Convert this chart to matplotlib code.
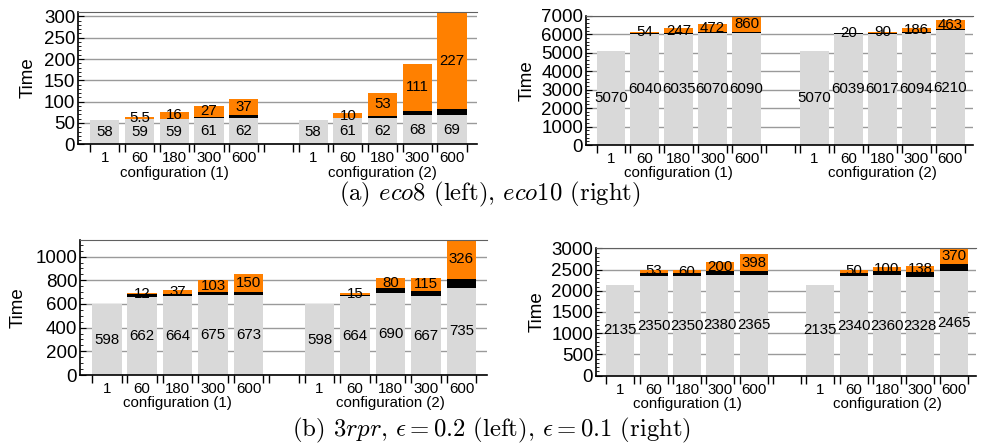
import matplotlib
matplotlib.use("Agg")
import matplotlib.pyplot as plt
import numpy as np

plt.rcParams['font.family'] = ['Liberation Sans', 'DejaVu Sans']
plt.rcParams['mathtext.fontset'] = 'cm'

# ---------------- data ----------------
tick_labels = ["1", "60", "180", "300", "600"]
group_labels = ["configuration (1)", "configuration (2)"]

# eco8
eco8_gray1 = [58, 59, 59, 61, 62]
eco8_black1 = [0, 0.5, 1, 2.5, 7]
eco8_orange1 = [0, 5.5, 16, 27, 37]
eco8_gray2 = [58, 61, 62, 68, 69]
eco8_black2 = [0, 1.5, 5, 10, 14]
eco8_orange2 = [0, 10, 53, 111, 227]

# eco10
eco10_gray1 = [5070, 6040, 6035, 6070, 6090]
eco10_black1 = [0, 30, 30, 40, 50]
eco10_orange1 = [0, 54, 247, 472, 860]
eco10_gray2 = [5070, 6039, 6017, 6094, 6210]
eco10_black2 = [0, 20, 40, 40, 80]
eco10_orange2 = [0, 20, 90, 186, 463]

# 3rpr eps=0.2
r02_gray1 = [598, 662, 664, 675, 673]
r02_black1 = [0, 20, 20, 25, 30]
r02_orange1 = [0, 12, 37, 103, 150]
r02_gray2 = [598, 664, 690, 667, 735]
r02_black2 = [0, 15, 45, 40, 78]
r02_orange2 = [0, 15, 80, 115, 326]

# 3rpr eps=0.1
r01_gray1 = [2135, 2350, 2350, 2380, 2365]
r01_black1 = [0, 80, 70, 90, 100]
r01_orange1 = [0, 53, 60, 200, 398]
r01_gray2 = [2135, 2340, 2360, 2328, 2465]
r01_black2 = [0, 90, 110, 120, 170]
r01_orange2 = [0, 50, 100, 138, 370]

GRAY = '#d9d9d9'
ORANGE = '#ff8000'
W, H = 981, 445
BW = 0.84


def fmt(v):
    return '{:g}'.format(v)


def panel(rect_px, gray1, black1, orange1, gray2, black2, orange2,
          ymax, major, minor, xlim, ylab_dx):
    l, r, t, b = rect_px
    ax = fig.add_axes([l / W, 1 - b / H, (r - l) / W, (b - t) / H])
    gray = list(gray1) + [0] + list(gray2)
    black = list(black1) + [0] + list(black2)
    orange = list(orange1) + [0] + list(orange2)
    x = np.arange(len(gray))
    gray = np.array(gray, float)
    black = np.array(black, float)
    orange = np.array(orange, float)
    ax.bar(x, gray, BW, color=GRAY, zorder=2)
    ax.bar(x, black, BW, bottom=gray, color='black', zorder=2)
    ax.bar(x, orange, BW, bottom=gray + black, color=ORANGE, zorder=2)
    for i in x:
        if i == 5:
            continue
        ax.text(i, gray[i] / 2, fmt(gray[i]), ha='center', va='center',
                fontsize=10.8, zorder=5, clip_on=False)
        if orange[i] > 0:
            ax.text(i, gray[i] + black[i] + orange[i] / 2, fmt(orange[i]),
                    ha='center', va='center', fontsize=10.8, zorder=5)
    ax.set_ylim(0, ymax)
    ax.set_xlim(*xlim)
    ax.set_yticks(np.arange(0, ymax + 1e-9, major))
    ax.set_yticks(np.arange(0, ymax + 1e-9, minor), minor=True)
    ax.tick_params(axis='y', which='both', direction='in', labelsize=13.5, pad=2)
    ax.tick_params(axis='y', which='major', length=4)
    ax.tick_params(axis='y', which='minor', length=2.5)
    ax.yaxis.grid(True, color='#9a9a9a', linewidth=1.0)
    ax.set_axisbelow(True)
    edges = []
    for i in x:
        edges += [i - BW / 2, i + BW / 2]
    ax.set_xticks(edges)
    ax.set_xticklabels([])
    ax.set_xticks(x, minor=True)
    ax.set_xticklabels(tick_labels + [""] + tick_labels, minor=True)
    ax.tick_params(axis='x', which='major', direction='out', length=6, width=1)
    ax.tick_params(axis='x', which='minor', length=0, labelsize=10.8, pad=5)
    ax.spines['right'].set_visible(False)
    ax.spines['top'].set_color('#606060')
    ax.spines['left'].set_linewidth(1.2)
    ax.spines['bottom'].set_linewidth(1.2)
    for k, c in enumerate([2, 8]):
        ax.annotate(group_labels[k], xy=(c, 0), xycoords=('data', 'axes fraction'),
                    xytext=(0, -28.5 * 0.72), textcoords='offset points',
                    ha='center', va='center', fontsize=10.8)
    ax.set_ylabel('Time', fontsize=13.5)
    ax.yaxis.set_label_coords(-(ylab_dx - 11) / (r - l), 0.5)
    return ax


fig = plt.figure(figsize=(W / 100, H / 100), dpi=100)

panel((78, 477, 11.7, 144.3), eco8_gray1, eco8_black1, eco8_orange1,
      eco8_gray2, eco8_black2, eco8_orange2, 311, 50, 10, (-0.77, 10.72), 52)
panel((586, 973, 15.8, 145), eco10_gray1, eco10_black1, eco10_orange1,
      eco10_gray2, eco10_black2, eco10_orange2, 7000, 1000, 200, (-0.73, 10.67), 61)
panel((80, 487, 240, 375), r02_gray1, r02_black1, r02_orange1,
      r02_gray2, r02_black2, r02_orange2, 1140, 200, 50, (-0.75, 10.72), 64)
panel((596, 976, 248.3, 375.7), r01_gray1, r01_black1, r01_orange1,
      r01_gray2, r01_black2, r01_orange2, 3000, 500, 100, (-0.73, 10.67), 61)

fig.text(490 / W, 1 - 194 / H, r"(a) $\mathit{eco8}$ (left), $\mathit{eco10}$ (right)",
         ha='center', va='center', fontsize=17.8, family='cmr10')
fig.text(491 / W, 1 - 430 / H,
         r"(b) $\mathit{3rpr}$, $\epsilon = 0.2$ (left), $\epsilon = 0.1$ (right)",
         ha='center', va='center', fontsize=17.8, family='cmr10')

fig.savefig('out.png', dpi=100)
